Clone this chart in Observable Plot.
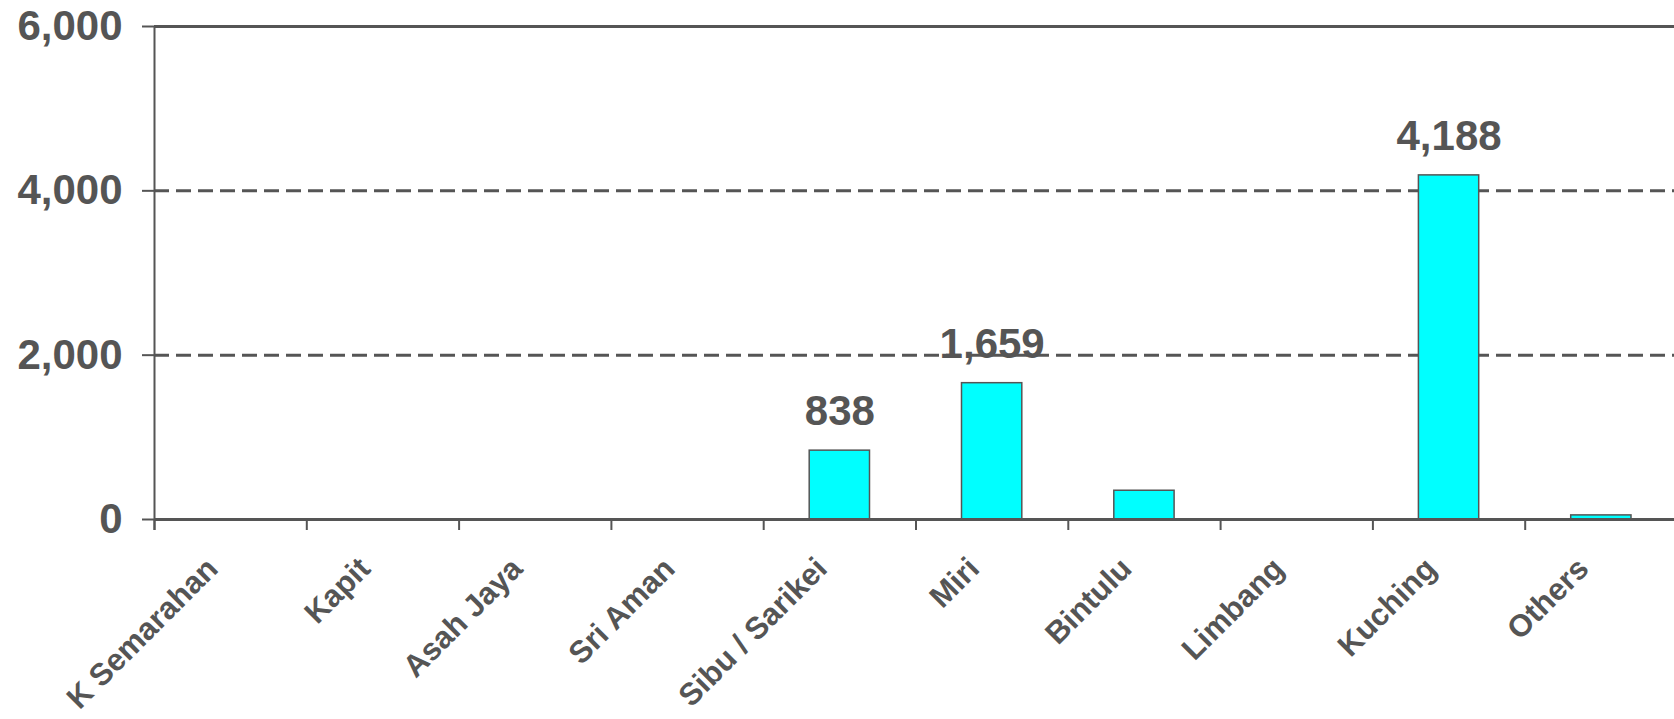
<!DOCTYPE html>
<html>
<head>
<meta charset="utf-8">
<script src="https://cdn.jsdelivr.net/npm/d3@7"></script>
<script src="https://cdn.jsdelivr.net/npm/@observablehq/plot@0.6"></script>
<style>
  html, body { margin: 0; padding: 0; background: #fff; }
</style>
</head>
<body>
<div id="chart"></div>
<script>
const categories = ["K Semarahan", "Kapit", "Asah Jaya", "Sri Aman", "Sibu / Sarikei", "Miri", "Bintulu", "Limbang", "Kuching", "Others"];
const values = [0, 0, 0, 0, 838, 1659, 350, 0, 4188, 50];
const labeledCategories = ["Sibu / Sarikei", "Miri", "Kuching"];
const yTicks = [0, 2000, 4000, 6000];
const gridValues = [2000, 4000];

const data = categories.map((c, i) => ({category: c, index: i, value: values[i]}));
const gray = "#555555";
const fmt = d3.format(",");

const chart = Plot.plot({
  width: 1674,
  height: 719,
  marginLeft: 154,
  marginRight: 0,
  marginTop: 26,
  marginBottom: 200,
  style: {fontFamily: "'Liberation Sans', Arial, sans-serif", color: gray, background: "#fff"},
  x: {domain: [0, categories.length], range: [154, 1677]},
  y: {domain: [0, 6000]},
  marks: [
    Plot.ruleY(gridValues, {stroke: gray, strokeWidth: 3, strokeDasharray: "15,7"}),
    Plot.ruleY([6000], {stroke: gray, strokeWidth: 3}),
    Plot.rectY(data, {
      x1: d => d.index,
      x2: d => d.index + 1,
      y1: 0,
      y2: "value",
      insetLeft: 46,
      insetRight: 46,
      fill: "#00ffff",
      stroke: gray,
      strokeWidth: 1.5
    }),
    Plot.ruleX([0], {stroke: gray, strokeWidth: 2, insetBottom: -11}),
    Plot.ruleY([0], {stroke: gray, strokeWidth: 3}),
    Plot.axisY({
      ticks: yTicks,
      tickSize: 12,
      tickPadding: 20,
      tickFormat: fmt,
      fontSize: 42,
      fontWeight: "bold",
      color: gray,
      strokeWidth: 2,
      label: null
    }),
    Plot.axisX({
      ticks: d3.range(0, categories.length + 1),
      tickSize: 11,
      tickFormat: () => "",
      color: gray,
      strokeWidth: 2,
      label: null
    }),
    Plot.axisX({
      ticks: categories.map((c, i) => i + 0.5),
      tickFormat: t => categories[Math.floor(t)],
      tickSize: 0,
      tickPadding: 44,
      tickRotate: -45,
      fontSize: 31,
      fontWeight: "bold",
      color: gray,
      dx: -18,
      label: null
    }),
    Plot.text(data.filter(d => labeledCategories.includes(d.category)), {
      x: d => d.index + 0.5,
      y: "value",
      text: d => fmt(d.value),
      dy: -39,
      fontSize: 42,
      fontWeight: "bold",
      fill: gray
    })
  ]
});
document.getElementById("chart").appendChild(chart);
</script>
</body>
</html>
